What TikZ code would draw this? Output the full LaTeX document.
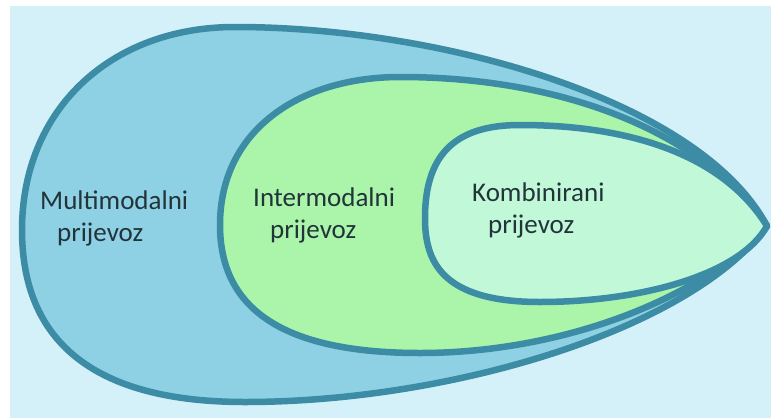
\documentclass[tikz,border=0pt]{standalone}
\usepackage{fontspec}
\setmainfont{Carlito}
\definecolor{rim}{HTML}{3C8CA5}
\definecolor{bgblue}{HTML}{D4F0F8}
\definecolor{outerfill}{HTML}{8ED0E4}
\definecolor{midfill}{HTML}{AAF5AA}
\definecolor{innerfill}{HTML}{C0F8D8}
\definecolor{txt}{HTML}{22343A}
\begin{document}
\begin{tikzpicture}[x=1pt,y=-1pt,
  zone/.style={draw=rim, line width=6.5pt, line join=round},
  lbl/.style={align=left, inner sep=0pt, text=txt, anchor=west, font=\fontsize{27}{32}\selectfont}]
  \useasboundingbox (0,0) rectangle (771,418);
  \fill[white] (0,0) rectangle (771,418);
  \fill[bgblue] (10,6) rectangle (771,418);
  \coordinate (tip) at (767,226);
  % multimodalni
  \path[zone, fill=outerfill] (22,230) .. controls (22,110) and (110,27) .. (235,27)
    .. controls (440,27) and (700,100) .. (tip)
    .. controls (690,330) and (450,402) .. (245,402)
    .. controls (80,402) and (22,330) .. cycle;
  % intermodalni
  \path[zone, fill=midfill] (220,225) .. controls (220,130) and (300,77) .. (400,77)
    .. controls (560,77) and (700,130) .. (tip)
    .. controls (700,300) and (560,353) .. (420,353)
    .. controls (270,353) and (220,300) .. cycle;
  % kombinirani
  \path[zone, fill=innerfill] (425,218) .. controls (425,150) and (460,125) .. (520,125)
    .. controls (620,125) and (720,150) .. (tip)
    .. controls (740,275) and (640,302) .. (540,302)
    .. controls (440,302) and (425,260) .. cycle;
  \node[lbl] (multi) at (40,218) {Multimodalni\\\hspace*{17pt}prijevoz};
  \node[lbl] (inter) at (253,215) {Intermodalni\\\hspace*{17pt}prijevoz};
  \node[lbl] (komb) at (472,210) {Kombinirani\\\hspace*{16pt}prijevoz};
\end{tikzpicture}
\end{document}
